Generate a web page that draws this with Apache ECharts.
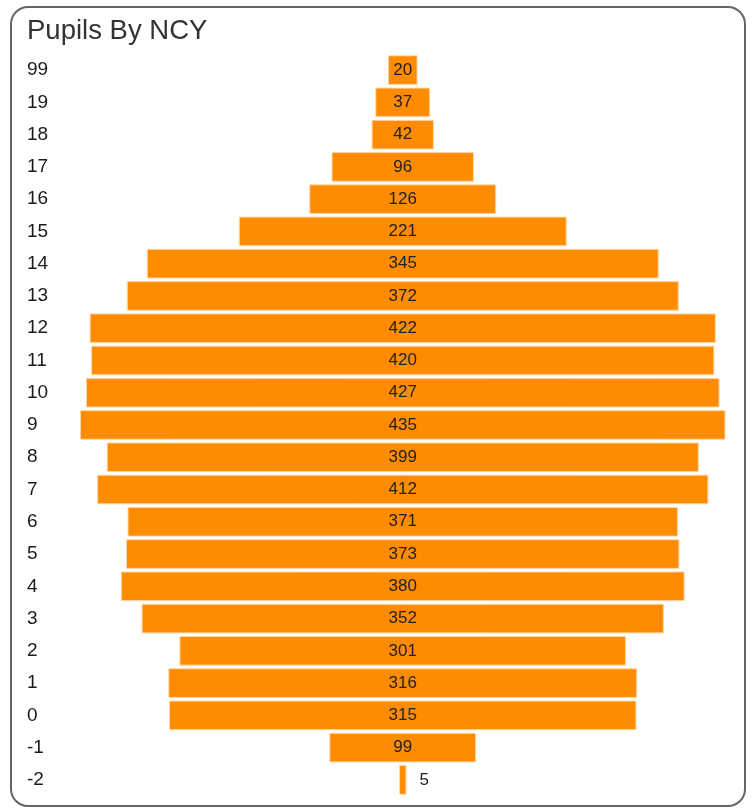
<!DOCTYPE html>
<html><head><meta charset="utf-8">
<script src="https://cdn.jsdelivr.net/npm/echarts@6/dist/echarts.min.js"></script>
<style>
html,body{margin:0;padding:0;background:#fff;}
#frame{position:absolute;left:10px;top:6px;width:732px;height:797px;border:2px solid #666;border-radius:18px;}
#c{position:absolute;left:0;top:0;width:752px;height:809px;}
</style></head><body>
<div id="frame"></div>
<div id="c"></div>
<script>
var categories = ['99','19','18','17','16','15','14','13','12','11','10','9','8','7','6','5','4','3','2','1','0','-1','-2'];
var pupils = [20,37,42,96,126,221,345,372,422,420,427,435,399,412,371,373,380,352,301,316,315,99,5];
var maxVal = Math.max.apply(null, pupils);
var offsets = pupils.map(function(v){ return (maxVal - v) / 2; });
var chart = echarts.init(document.getElementById('c'), null, {renderer:'canvas'});
chart.setOption({
  animation:false,
  title:{text:'Pupils By NCY', left:22, top:12, textStyle:{fontFamily:'Liberation Sans', fontSize:27.5, fontWeight:'normal', color:'#333'}},
  grid:{left:80, right:26.5, top:54, bottom:13},
  xAxis:{type:'value', min:0, max:maxVal, show:false},
  yAxis:{type:'category', inverse:true, data:categories,
    axisLine:{show:false}, axisTick:{show:false}, splitLine:{show:false},
    axisLabel:{align:'left', margin:53, padding:[3,0,0,0], fontFamily:'Liberation Sans', fontSize:19, color:'#1a1a1a'}},
  series:[
    {type:'bar', stack:'s', data:offsets, itemStyle:{color:'transparent'}, silent:true, barCategoryGap:'8%'},
    {type:'bar', stack:'s', barCategoryGap:'8%',
     data:pupils.map(function(v){
       return v < 15 ? {value:v, label:{position:'right', distance:13}} : v;
     }),
     itemStyle:{color:'#ff8c00', borderColor:'#ffd9a8', borderWidth:1},
     label:{show:true, position:'inside', fontFamily:'Liberation Sans', fontSize:17, color:'#222'}}
  ]
});
</script>
</body></html>
